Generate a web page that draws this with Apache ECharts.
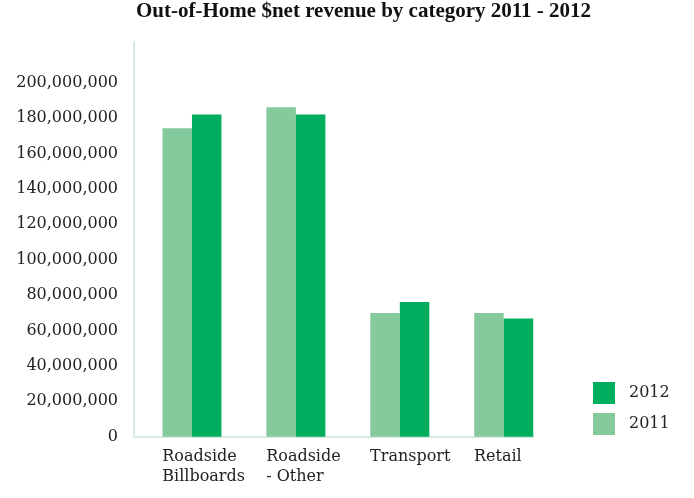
<!DOCTYPE html>
<html>
<head>
<meta charset="utf-8">
<script src="https://cdn.jsdelivr.net/npm/echarts@6/dist/echarts.min.js"></script>
<style>
  html, body { margin: 0; padding: 0; background: #fff; }
  #main { width: 694px; height: 498px; }
</style>
</head>
<body>
<div id="main"></div>
<script>
// categories and values
var categories = ['Roadside\nBillboards', 'Roadside\n- Other', 'Transport', 'Retail'];
var rev2011 = [174200000, 186100000, 69900000, 69900000];
var rev2012 = [182000000, 182000000, 76100000, 66800000];
var yTicks = [0, 20000000, 40000000, 60000000, 80000000, 100000000,
              120000000, 140000000, 160000000, 180000000, 200000000];

var font = 'DejaVu Serif';
var lineColor = '#cbe5d8';
var yMax = 223000000;

function fmt(v) {
    return String(v).replace(/\B(?=(\d{3})+(?!\d))/g, ',');
}

var myChart = echarts.init(document.getElementById('main'));
myChart.setOption({
    backgroundColor: '#fff',
    animation: false,
    title: {
        text: 'Out-of-Home $net revenue by category 2011 - 2012',
        left: 136,
        top: 1,
        padding: 0,
        textStyle: {
            fontFamily: 'Liberation Serif',
            fontWeight: 'bold',
            fontSize: 21,
            color: '#111'
        }
    },
    legend: {
        data: ['2012', '2011'],
        orient: 'vertical',
        left: 593,
        top: 382,
        padding: 0,
        icon: 'rect',
        itemWidth: 22,
        itemHeight: 22,
        itemGap: 9,
        textStyle: {fontFamily: font, fontSize: 16, color: '#222', padding: [0, 0, 0, 9]}
    },
    grid: [
        // axis lines + y labels
        {left: 134, right: 160.5, top: 42, bottom: 61.3},
        // bars
        {left: 140, right: 138.3, top: 42, bottom: 61.3},
        // category labels, left aligned with the 2011 bar
        {left: 162.3, right: 220, top: 42, bottom: 61.3}
    ],
    xAxis: [
        {
            gridIndex: 0, type: 'value', min: 0, max: 1,
            axisLine: {show: true, lineStyle: {color: lineColor, width: 1.5}},
            axisTick: {show: false}, axisLabel: {show: false}, splitLine: {show: false}
        },
        {
            gridIndex: 1, type: 'category', data: categories,
            axisLine: {show: false}, axisTick: {show: false}, axisLabel: {show: false}
        },
        {
            gridIndex: 2, type: 'category', data: categories, boundaryGap: false,
            axisLine: {show: false}, axisTick: {show: false},
            axisLabel: {
                align: 'left', margin: 10, lineHeight: 20,
                fontFamily: font, fontSize: 16, color: '#222', interval: 0
            }
        }
    ],
    yAxis: [
        {
            gridIndex: 0, type: 'value', min: 0, max: yMax, interval: 20000000,
            axisLine: {show: true, lineStyle: {color: lineColor, width: 1.5}},
            axisTick: {show: false}, splitLine: {show: false},
            axisLabel: {
                margin: 16, fontFamily: font, fontSize: 16, color: '#222',
                showMaxLabel: false,
                formatter: function (v) { return yTicks.indexOf(v) >= 0 ? fmt(v) : ''; }
            }
        },
        {gridIndex: 1, type: 'value', min: 0, max: yMax, show: false},
        {gridIndex: 2, type: 'value', min: 0, max: yMax, show: false}
    ],
    series: [
        {
            name: '2011', type: 'bar', xAxisIndex: 1, yAxisIndex: 1,
            barWidth: 29.5, barGap: '0%',
            itemStyle: {color: '#84ca9c'},
            data: rev2011
        },
        {
            name: '2012', type: 'bar', xAxisIndex: 1, yAxisIndex: 1,
            barWidth: 29.5, barGap: '0%',
            itemStyle: {color: '#00ad5f'},
            data: rev2012
        }
    ]
});
</script>
</body>
</html>
